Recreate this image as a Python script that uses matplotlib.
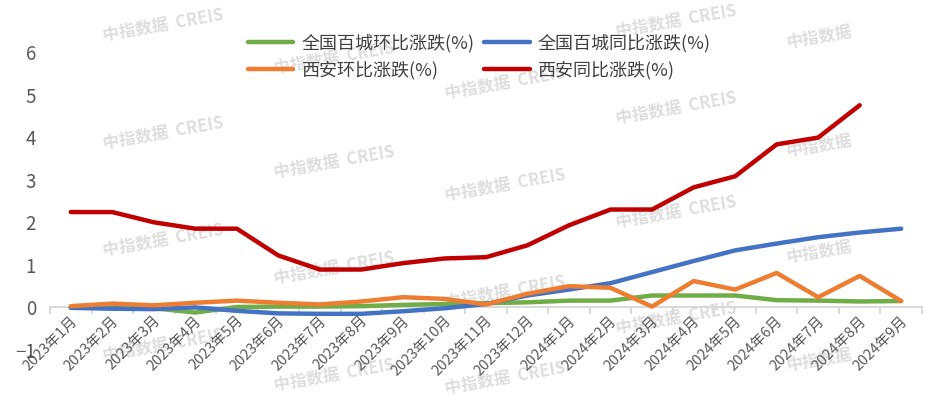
import matplotlib

matplotlib.use("Agg")
import matplotlib.pyplot as plt
import numpy as np

plt.rcParams["font.family"] = ["Noto Sans CJK SC", "DejaVu Sans"]

# data (%)
months = [f"2023年{m}月" for m in range(1, 13)] + [f"2024年{m}月" for m in range(1, 10)]
national_mom = [0.00, -0.01, -0.02, -0.12, 0.01, 0.02, 0.02, 0.03, 0.06, 0.08, 0.10,
                0.12, 0.16, 0.16, 0.28, 0.28, 0.28, 0.17, 0.16, 0.14, 0.15]
national_yoy = [-0.01, -0.03, -0.04, 0.00, -0.08, -0.14, -0.15, -0.15, -0.09, -0.02, 0.08,
                0.28, 0.42, 0.57, 0.83, 1.09, 1.34, 1.50, 1.65, 1.76, 1.85]
xian_mom = [0.03, 0.09, 0.05, 0.11, 0.16, 0.11, 0.07, 0.14, 0.24, 0.20, 0.07,
            0.32, 0.50, 0.46, 0.02, 0.62, 0.42, 0.81, 0.24, 0.74, 0.15]
xian_yoy = [2.24, 2.24, 2.00, 1.85, 1.85, 1.22, 0.89, 0.89, 1.04, 1.15, 1.18,
            1.46, 1.93, 2.30, 2.30, 2.82, 3.08, 3.83, 3.99, 4.75, np.nan]

series = [
    ("全国百城环比涨跌(%)", national_mom, "#70AD47"),
    ("全国百城同比涨跌(%)", national_yoy, "#4472C4"),
    ("西安环比涨跌(%)", xian_mom, "#ED7D31"),
    ("西安同比涨跌(%)", xian_yoy, "#C00000"),
]

W, H = 946, 397
fig = plt.figure(figsize=(W / 100, H / 100), dpi=100)
ax = fig.add_axes([50 / W, 47 / H, 872 / W, 298 / H])
ax.set_facecolor("none")

# watermark
marks = []
for cx, ys in [(163, [25, 133, 240, 345]), (334, [58, 162, 268, 375]),
               (505, [83, 185, 292, 378]), (676, [21, 108, 212, 318])]:
    marks += [(cx, y, "中指数据  CREIS") for y in ys]
marks += [(819, y, "中指数据") for y in [37, 146, 252, 360]]
for cx, cy, s in marks:
    fig.text(cx / W, 1 - cy / H, s, ha="center", va="center", rotation=10,
             fontsize=12, fontweight="bold", color="#dedede", zorder=-1)

x = np.arange(len(months))
lines = {}
for label, vals, col in series:
    (ln,) = ax.plot(x, vals, color=col, lw=3.2, label=label,
                    solid_capstyle="round", solid_joinstyle="round")
    lines[label] = ln

ax.set_xlim(-0.5, len(months) - 0.5)
ax.set_ylim(-1, 6)
ax.set_yticks(range(-1, 7))
for s in ["top", "right", "left"]:
    ax.spines[s].set_visible(False)
ax.spines["bottom"].set_position(("data", 0))
ax.spines["bottom"].set_color("#d9d9d9")
ax.spines["bottom"].set_linewidth(1.5)
ax.spines["bottom"].set_zorder(0.5)

ax.set_xticks(x + 0.1)
ax.set_xticklabels(months, rotation=45, ha="right", va="center",
                   rotation_mode="anchor", fontsize=10.5, color="#595959")
ax.set_xticks(np.arange(-0.5, len(months)), minor=True)
ax.tick_params(axis="x", which="major", length=0, pad=8)
ax.tick_params(axis="x", which="minor", length=5, width=1.5, color="#d9d9d9")
ax.tick_params(axis="y", length=0, pad=10, labelsize=13.5, labelcolor="#595959")

order = ["全国百城环比涨跌(%)", "西安环比涨跌(%)", "全国百城同比涨跌(%)", "西安同比涨跌(%)"]
fig.legend([lines[k] for k in order], order, ncol=2, frameon=False,
           loc="upper left", bbox_to_anchor=(232 / W, 1 - 18 / H),
           fontsize=13, handlelength=2.5, handletextpad=0.45,
           columnspacing=0.55, labelspacing=0.45, labelcolor="#404040")

fig.savefig("out.png", dpi=100)
